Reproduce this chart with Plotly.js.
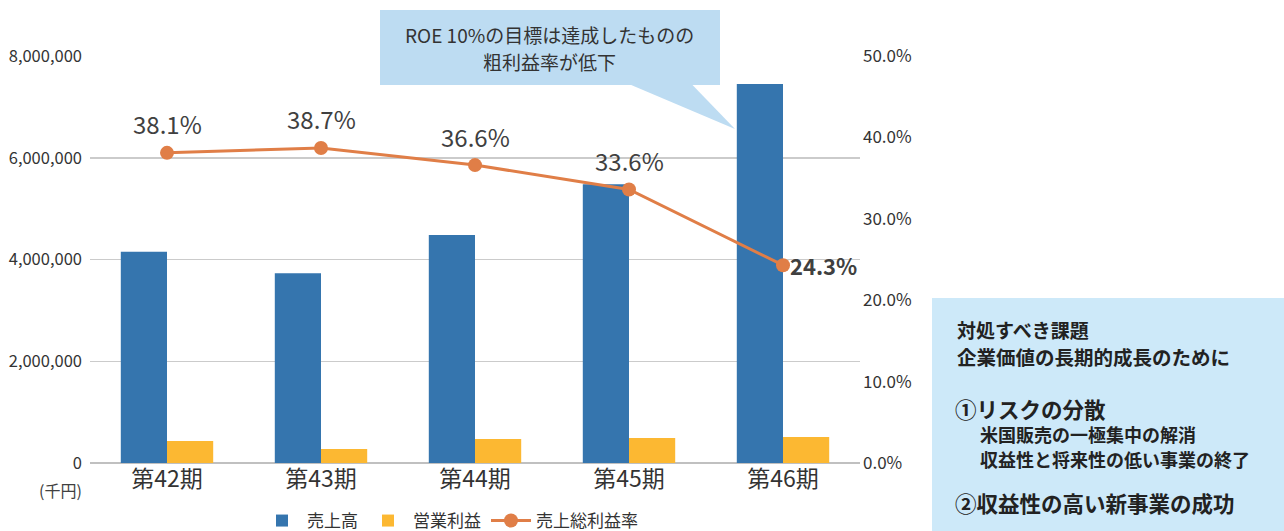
<!DOCTYPE html>
<html>
<head>
<meta charset="utf-8">
<script src="https://cdn.plot.ly/plotly-3.0.1.min.js"></script>
<style>
html,body{margin:0;padding:0;background:#fff;}
#chart{width:1284px;height:531px;}
</style>
</head>
<body>
<div id="chart"></div>
<script>
const categories = ['第42期', '第43期', '第44期', '第45期', '第46期'];
const sales = [4150000, 3730000, 4480000, 5480000, 7450000];
const operatingProfit = [432000, 275000, 470000, 490000, 510000];
const grossMarginRate = [38.1, 38.7, 36.6, 33.6, 24.3];
const seriesNames = ['売上高', '営業利益', '売上総利益率'];
const leftTicks = [0, 2000000, 4000000, 6000000, 8000000];
const rightTicks = [0, 10, 20, 30, 40, 50];

const FONT = '"Noto Sans CJK JP", "Noto Sans", sans-serif';
const NARROW = '"Liberation Sans Narrow", "Noto Sans CJK JP", sans-serif';
const TXT = '#404040';

const traces = [
  {type: 'bar', name: seriesNames[0], x: categories, y: sales, marker: {color: '#3575ae'}, hoverinfo: 'skip'},
  {type: 'bar', name: seriesNames[1], x: categories, y: operatingProfit, marker: {color: '#fcb832'}, hoverinfo: 'skip'},
  {type: 'scatter', mode: 'lines+markers', name: seriesNames[2], x: categories, y: grossMarginRate, yaxis: 'y2',
   line: {color: '#e07e47', width: 3}, marker: {color: '#e07e47', size: 14}, hoverinfo: 'skip'}
];

const annotations = grossMarginRate.map((v, i) => {
  const last = i === grossMarginRate.length - 1;
  return {
    x: categories[i], y: v, xref: 'x', yref: 'y2',
    text: last ? '<b>' + v.toFixed(1) + '%</b>' : v.toFixed(1) + '%',
    showarrow: false,
    font: {family: FONT, size: last ? 22 : 24, color: TXT},
    xanchor: last ? 'left' : 'center',
    yanchor: 'middle',
    xshift: last ? 5 : 0,
    yshift: last ? 0 : 29
  };
});

const rightLines = [
  {y: 329, x: 955, text: '<b>対処すべき課題</b>', size: 19},
  {y: 356, x: 955, text: '<b>企業価値の長期的成長のために</b>', size: 19.5},
  {y: 408, x: 953, text: '<b>①リスクの分散</b>', size: 21.5},
  {y: 434, x: 978, text: '<b>米国販売の一極集中の解消</b>', size: 18},
  {y: 459, x: 978, text: '<b>収益性と将来性の低い事業の終了</b>', size: 18},
  {y: 503, x: 953, text: '<b>②収益性の高い新事業の成功</b>', size: 21.5}
];

const px = x => (x - 90) / 770;
const py = y => (463 - y) / 407;

annotations.push(
  {xref: 'paper', yref: 'paper', x: px(84), y: py(490), text: '(千円)', showarrow: false,
   xanchor: 'right', yanchor: 'middle', font: {family: FONT, size: 16, color: TXT}},
  {xref: 'paper', yref: 'paper', x: px(549), y: py(34), text: 'ROE 10%の目標は達成したものの', showarrow: false,
   xanchor: 'center', yanchor: 'middle', font: {family: FONT, size: 19, color: '#333'}},
  {xref: 'paper', yref: 'paper', x: px(549), y: py(61), text: '粗利益率が低下', showarrow: false,
   xanchor: 'center', yanchor: 'middle', font: {family: FONT, size: 19, color: '#333'}}
);
rightLines.forEach(l => annotations.push({
  xref: 'paper', yref: 'paper', x: px(l.x), y: py(l.y), xanchor: 'left', yanchor: 'middle', align: 'left',
  showarrow: false, text: l.text, font: {family: FONT, size: l.size, color: '#222'}
}));

const shapes = [
  {type: 'rect', xref: 'paper', yref: 'paper', x0: px(380), x1: px(720), y0: py(85), y1: py(10),
   fillcolor: '#bddcf2', line: {width: 0}, layer: 'above'},
  {type: 'path', xref: 'paper', yref: 'paper',
   path: 'M ' + px(630) + ' ' + py(84.5) + ' L ' + px(692) + ' ' + py(84.5) + ' L ' + px(735) + ' ' + py(129) + ' Z',
   fillcolor: '#bddcf2', line: {width: 0}, layer: 'above'},
  {type: 'rect', xref: 'paper', yref: 'paper', x0: px(932), x1: px(1290), y0: py(540), y1: py(298),
   fillcolor: '#cde9f9', line: {width: 0}, layer: 'above'}
];

const layout = {
  width: 1284, height: 531,
  margin: {l: 90, r: 424, t: 56, b: 68, autoexpand: false},
  paper_bgcolor: '#fff', plot_bgcolor: '#fff',
  font: {family: FONT, color: TXT},
  barmode: 'group', bargap: 0.4, bargroupgap: 0,
  showlegend: true,
  legend: {orientation: 'h', x: px(450), xanchor: 'center', y: py(521), yanchor: 'middle',
           font: {family: FONT, size: 17, color: '#333'}, itemwidth: 40, tracegroupgap: 0},
  xaxis: {type: 'category', tickfont: {family: FONT, size: 23, color: '#333'}, ticks: '', showline: false,
          showgrid: false, fixedrange: true, automargin: false},
  yaxis: {range: [0, 8000000], tickvals: leftTicks, tickformat: ',d', showgrid: true, gridcolor: '#cbcbcb', gridwidth: 1.5,
          zeroline: true, zerolinecolor: '#c0c0c0', zerolinewidth: 2.5, automargin: false,
          tickfont: {family: NARROW, size: 16.5, color: '#333'}, ticks: '', ticklabelstandoff: 7, fixedrange: true},
  yaxis2: {range: [0, 50], tickvals: rightTicks, ticktext: rightTicks.map(t => t.toFixed(1) + '%'),
           overlaying: 'y', side: 'right', automargin: false,
           showgrid: false, zeroline: false, tickfont: {family: FONT, size: 17, color: '#333'}, ticks: '',
           ticklabelstandoff: 2, fixedrange: true},
  annotations: annotations,
  shapes: shapes
};

Plotly.newPlot('chart', traces, layout, {displayModeBar: false, staticPlot: true});
</script>
</body>
</html>
